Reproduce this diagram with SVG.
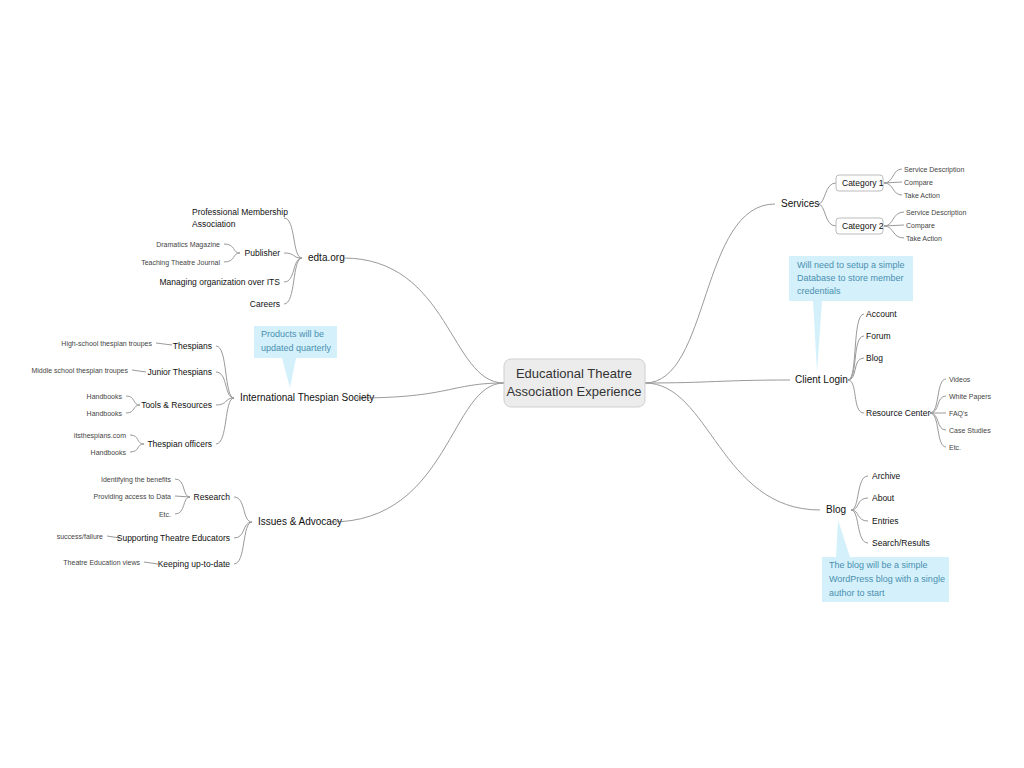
<svg xmlns="http://www.w3.org/2000/svg" width="1024" height="768" viewBox="0 0 1024 768">
<style>
text{font-family:"Liberation Sans",Arial,sans-serif;fill:#111}
.m{font-size:10px}
.s{font-size:8.5px}
.t{font-size:7px;fill:#444}
.c{font-size:13px;fill:#333}
.n{font-size:9px;fill:#4a8fb0}
.e{text-anchor:end}
#conn path{fill:none;stroke:#9a9a9a;stroke-width:1}
.note{fill:#d4f1fb}
</style>
<rect width="1024" height="768" fill="#fff"/>
<g id="conn">
<path d="M504 383 C450 383 450 258 343 258"/>
<path d="M504 383 C450 383 450 398 356 398"/>
<path d="M504 383 C450 383 450 522 331 522"/>
<path d="M645 383 C710 383 700 204 775 204"/>
<path d="M645 383 C710 383 720 380 790 380"/>
<path d="M645 383 C710 383 720 510 820 510"/>
<path d="M302 258 C292 258 296 218 284 218"/><path d="M302 258 C292 258 296 253 284 253"/><path d="M302 258 C292 258 296 282 284 282"/><path d="M302 258 C292 258 296 304 284 304"/>
<path d="M240 253 C232 253 236 244 224 244"/><path d="M240 253 C232 253 236 262 224 262"/>
<path d="M234 398 C224 398 228 346 216 346"/><path d="M234 398 C224 398 228 372 216 372"/><path d="M234 398 C224 398 228 405 216 405"/><path d="M234 398 C224 398 228 444 216 444"/>
<path d="M156 343 L172 345"/><path d="M132 370 L146 372"/>
<path d="M140 405 C132 405 136 396 126 396"/><path d="M140 405 C132 405 136 413 126 413"/>
<path d="M144 444 C136 444 140 435 130 435"/><path d="M144 444 C136 444 140 452 130 452"/>
<path d="M252 522 C242 522 246 497 234 497"/><path d="M252 522 C242 522 246 538 234 538"/><path d="M252 522 C242 522 246 564 234 564"/>
<path d="M190 497 C182 497 186 479 175 479"/><path d="M190 497 L175 496"/><path d="M190 497 C182 497 186 514 175 514"/>
<path d="M107 536 L120 538"/><path d="M144 562 L158 564"/>
<path d="M818 204 C826 204 824 183 836 183"/><path d="M818 204 C826 204 824 226 836 226"/>
<path d="M884 183 C894 183 892 169 902 169"/><path d="M884 183 L902 182"/><path d="M884 183 C894 183 892 195 902 195"/>
<path d="M884 226 C894 226 892 212 904 212"/><path d="M884 226 L904 225"/><path d="M884 226 C894 226 892 238 904 238"/>
<path d="M848 380 C858 380 852 314 864 314"/><path d="M848 380 C858 380 852 336 864 336"/><path d="M848 380 C858 380 852 358 864 358"/><path d="M848 380 C858 380 852 413 864 413"/>
<path d="M930 413 C940 413 936 379 946 379"/><path d="M930 413 C940 413 936 396 946 396"/><path d="M930 413 L946 413"/><path d="M930 413 C940 413 936 430 946 430"/><path d="M930 413 C940 413 936 447 946 447"/>
<path d="M851 510 C860 510 856 476 868 476"/><path d="M851 510 C860 510 856 498 868 498"/><path d="M851 510 C860 510 856 521 868 521"/><path d="M851 510 C860 510 856 543 868 543"/>
</g>
<g id="center"><rect x="504" y="359" width="141" height="48" rx="7" fill="#ececec" stroke="#cfcfcf"/><text class="c" x="574" y="378" text-anchor="middle">Educational Theatre</text><text class="c" x="574" y="396" text-anchor="middle">Association Experience</text></g>
<g id="edta"><text class="m" x="308" y="261">edta.org</text>
<text class="s" x="192" y="215">Professional Membership</text><text class="s" x="192" y="227">Association</text>
<text class="s e" x="280" y="256">Publisher</text><text class="t e" x="220" y="247">Dramatics Magazine</text><text class="t e" x="220" y="265">Teaching Theatre Journal</text>
<text class="s e" x="280" y="285">Managing organization over ITS</text><text class="s e" x="280" y="307">Careers</text></g>
<g id="its"><text class="m" x="240" y="401">International Thespian Society</text>
<text class="s e" x="212" y="349">Thespians</text><text class="t e" x="152" y="346">High-school thespian troupes</text>
<text class="s e" x="212" y="375">Junior Thespians</text><text class="t e" x="128" y="373">Middle school thespian troupes</text>
<text class="s e" x="212" y="408">Tools &amp; Resources</text><text class="t e" x="122" y="399">Handbooks</text><text class="t e" x="122" y="416">Handbooks</text>
<text class="s e" x="212" y="447">Thespian officers</text><text class="t e" x="126" y="438">itsthespians.com</text><text class="t e" x="126" y="455">Handbooks</text></g>
<g id="note1"><path class="note" d="M254 326 H337 V358 H296 L290 388 L282 358 H254 Z"/><text class="n" x="261" y="337">Products will be</text><text class="n" x="261" y="351">updated quarterly</text></g>
<g id="issues"><text class="m" x="258" y="525">Issues &amp; Advocacy</text>
<text class="s e" x="230" y="500">Research</text><text class="t e" x="171" y="482">Identifying the benefits</text><text class="t e" x="171" y="499">Providing access to Data</text><text class="t e" x="171" y="517">Etc.</text>
<text class="s e" x="230" y="541">Supporting Theatre Educators</text><text class="t e" x="103" y="539">success/failure</text>
<text class="s e" x="230" y="567">Keeping up-to-date</text><text class="t e" x="140" y="565">Theatre Education views</text></g>
<g id="services"><text class="m" x="781" y="207">Services</text>
<rect x="836" y="175" width="47" height="16" rx="3" fill="#fff" stroke="#bbb"/><text class="s" x="842" y="186">Category 1</text>
<rect x="836" y="218" width="47" height="16" rx="3" fill="#fff" stroke="#bbb"/><text class="s" x="842" y="229">Category 2</text>
<text class="t" x="904" y="172">Service Description</text><text class="t" x="904" y="185">Compare</text><text class="t" x="904" y="198">Take Action</text>
<text class="t" x="906" y="215">Service Description</text><text class="t" x="906" y="228">Compare</text><text class="t" x="906" y="241">Take Action</text></g>
<g id="note2"><path class="note" d="M789 256 H913 V301 H822 L817 372 L813 301 H789 Z"/><text class="n" x="797" y="268">Will need to setup a simple</text><text class="n" x="797" y="281">Database to store member</text><text class="n" x="797" y="294">credentials</text></g>
<g id="client"><text class="m" x="795" y="383">Client Login</text>
<text class="s" x="866" y="317">Account</text><text class="s" x="866" y="339">Forum</text><text class="s" x="866" y="361">Blog</text><text class="s" x="866" y="416">Resource Center</text>
<text class="t" x="949" y="382">Videos</text><text class="t" x="949" y="399">White Papers</text><text class="t" x="949" y="416">FAQ's</text><text class="t" x="949" y="433">Case Studies</text><text class="t" x="949" y="450">Etc.</text></g>
<g id="blog"><text class="m" x="826" y="513">Blog</text>
<text class="s" x="872" y="479">Archive</text><text class="s" x="872" y="501">About</text><text class="s" x="872" y="524">Entries</text><text class="s" x="872" y="546">Search/Results</text></g>
<g id="note3"><path class="note" d="M822 557 H836 L838 520 L850 557 H949 V602 H822 Z"/><text class="n" x="829" y="568">The blog will be a simple</text><text class="n" x="829" y="582">WordPress blog with a single</text><text class="n" x="829" y="596">author to start</text></g>
</svg>
